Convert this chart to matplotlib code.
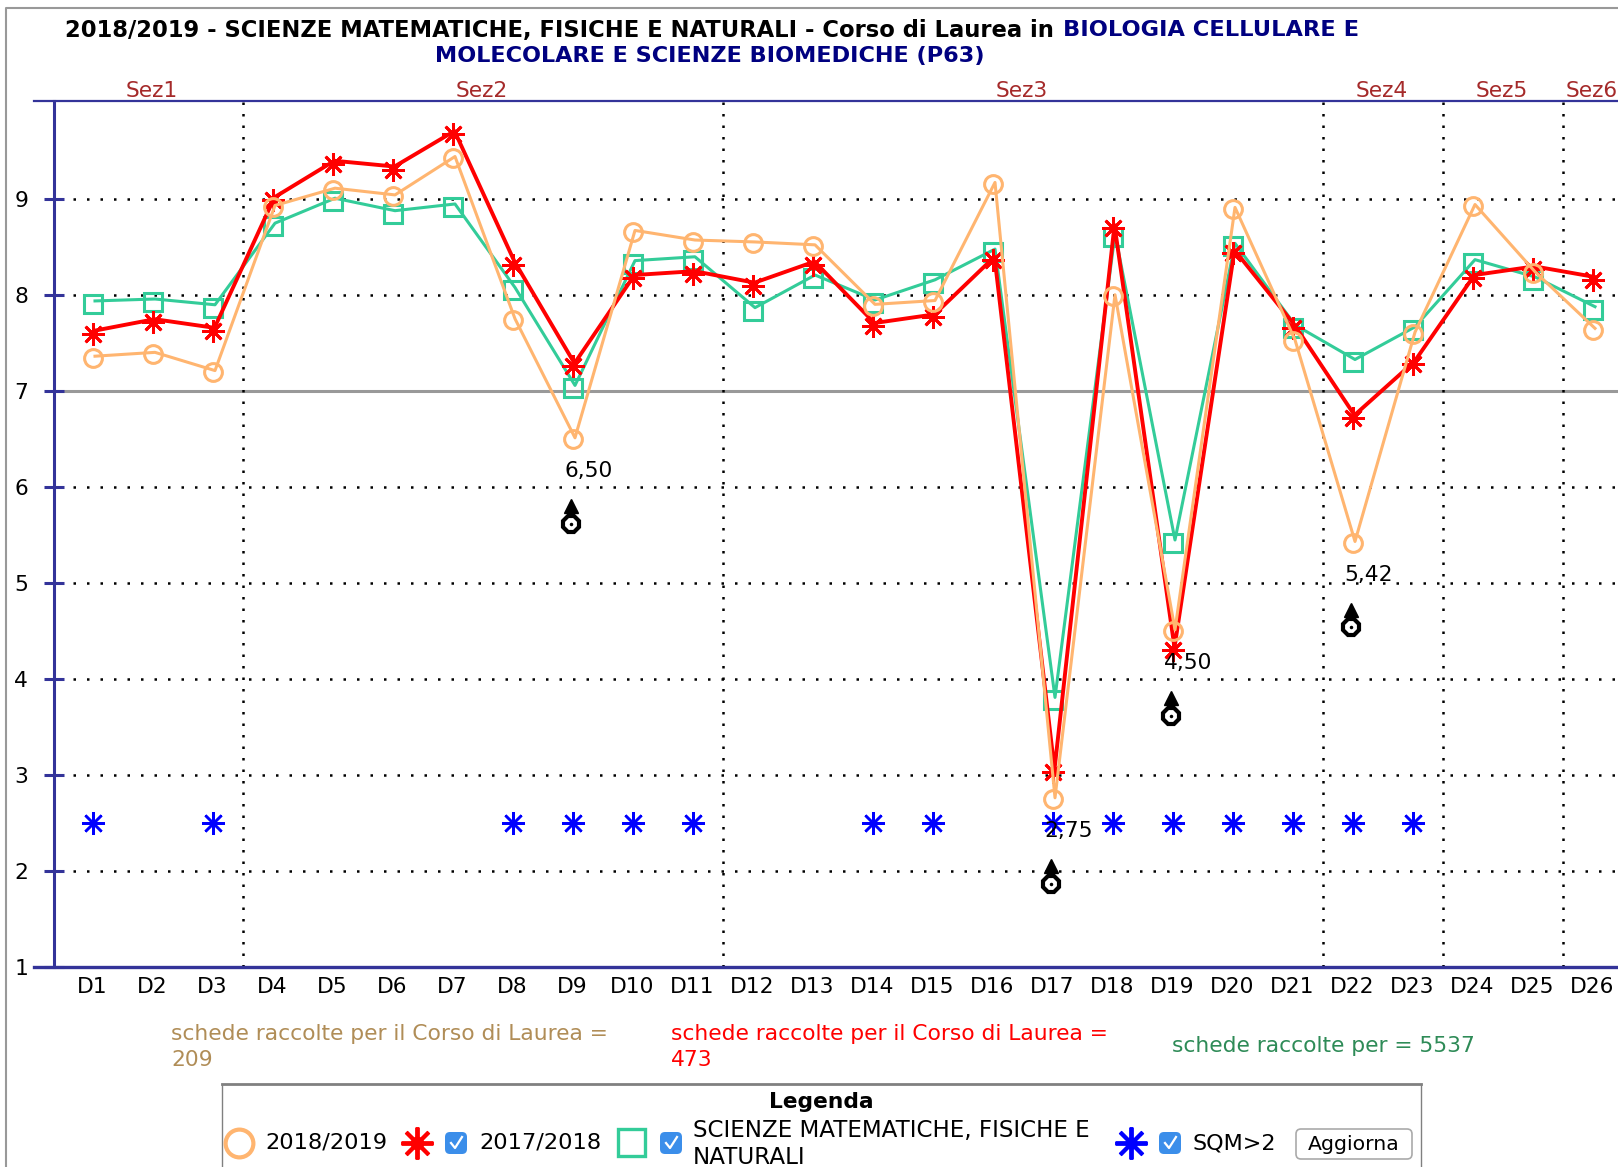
import matplotlib
matplotlib.use('Agg')
import matplotlib.pyplot as plt
from matplotlib.patches import FancyBboxPatch, Rectangle
from matplotlib.transforms import ScaledTranslation

# valori
labels = ['D%d' % i for i in range(1, 27)]
orange = [7.35, 7.39, 7.20, 8.92, 9.10, 9.03, 9.43, 7.74, 6.50, 8.66, 8.56, 8.54, 8.51,
          7.89, 7.93, 9.16, 2.75, 7.99, 4.50, 8.90, 7.52, 5.42, 7.60, 8.93, 8.23, 7.64]
red = [7.60, 7.72, 7.63, 8.99, 9.37, 9.31, 9.68, 8.32, 7.26, 8.18, 8.22, 8.10, 8.32,
       7.68, 7.77, 8.37, 3.03, 8.70, 4.30, 8.44, 7.66, 6.72, 7.28, 8.18, 8.27, 8.16]
green = [7.91, 7.93, 7.87, 8.72, 8.98, 8.85, 8.92, 8.05, 7.03, 8.33, 8.37, 7.84, 8.18,
         7.92, 8.13, 8.45, 3.78, 8.61, 5.42, 8.51, 7.66, 7.30, 7.64, 8.34, 8.16, 7.85]
sqm_labels = ['D1', 'D3', 'D8', 'D9', 'D10', 'D11', 'D14', 'D15', 'D17', 'D18', 'D19',
              'D20', 'D21', 'D22', 'D23']
sqm_value = 2.5
sections = ['Sez1', 'Sez2', 'Sez3', 'Sez4', 'Sez5', 'Sez6']
section_centers = [1, 6.5, 15.5, 21.5, 23.5, 25]
section_breaks = [2.5, 10.5, 20.5, 22.5, 24.5]

ORANGE = '#FFB570'
RED = '#FF0000'
GREEN = '#33CC99'
BLUE = '#0000FF'
NAVY = '#333399'
FS = 15.7

W, H = 1618, 1167
fig = plt.figure(figsize=(W / 100, H / 100), dpi=100)
plt.rcParams['font.family'] = 'DejaVu Sans'

# asse principale, posizionato in pixel
left, right, top, bottom = 53.5, 1618, 100.7, 967.3
ax = fig.add_axes([left / W, 1 - bottom / H, (right - left) / W, (bottom - top) / H])
ax.set_xlim((left - 92.5) / 60, (right - 92.5) / 60)
ax.set_ylim(1, 10.027)
x = list(range(len(labels)))

for s in ['top', 'right', 'bottom']:
    ax.spines[s].set_visible(False)
ax.spines['left'].set_color(NAVY)
ax.spines['left'].set_linewidth(2.2)

ax.set_xticks(x)
ax.set_xticklabels(labels, fontsize=FS)
ax.tick_params(axis='x', length=0, pad=7)
ax.set_yticks(range(1, 10))
ax.tick_params(axis='y', length=14.4, width=2.2, color=NAVY, direction='inout', pad=11,
               labelsize=FS)

# griglia
for v in [2, 3, 4, 5, 6, 8, 9]:
    ax.plot([-0.32, 30], [v, v], color='black', lw=1.8, ls=(0, (1, 4.4)), zorder=1)
ax.axhline(7, color='#999999', lw=2.2, zorder=1)
for b in section_breaks:
    ax.axvline(b, color='black', lw=1.8, ls=(0, (1, 3.6)), zorder=1)

for y, lw in [(10.027, 1.6), (1, 2.4)]:
    ax.plot([-0.97, 30], [y, y], color=NAVY, lw=lw, clip_on=False, zorder=2)

for name, c in zip(sections, section_centers):
    ax.text(c - 0.02, 10.02, name, color='#A52A2A', fontsize=FS, ha='center', va='bottom',
            clip_on=False)

def shifted(dx, dy):
    # le linee nell'originale sono un po' spostate rispetto ai marker
    return ax.transData + ScaledTranslation(dx / 100, dy / 100, fig.dpi_scale_trans)

def star(xs, ys, color, ms, mew, core, z):
    ax.plot(xs, ys, ls='none', color=color, marker=(8, 2, 0), ms=ms, mew=mew, zorder=z)
    ax.plot(xs, ys, ls='none', color=color, marker='o', ms=core, mew=0, zorder=z)

ax.plot(x, green, color=GREEN, lw=2.2, transform=shifted(2.5, 3), zorder=3)
ax.plot(x, green, ls='none', color=GREEN, marker='s', ms=12.5, mfc='none', mew=2.2, zorder=3)
ax.plot(x, red, color=RED, lw=2.8, transform=shifted(2, 3), zorder=4)
star(x, red, RED, 16, 2, 6.5, 4)
ax.plot(x, orange, color=ORANGE, lw=2.2, transform=shifted(2.5, 1.5), zorder=5)
ax.plot(x, orange, ls='none', color=ORANGE, marker='o', ms=12.8, mfc='none', mew=2.2, zorder=5)
star([labels.index(l) for l in sqm_labels], [sqm_value] * len(sqm_labels), BLUE, 16.5, 1.8, 4.5, 6)

# valori sotto il 7 con il simbolo nero
for i, v in enumerate(orange):
    if v < 7:
        ax.annotate(('%.2f' % v).replace('.', ','), (i, v), xytext=(-6, -23),
                    textcoords='offset points', fontsize=FS, va='center', zorder=7)
        ax.plot([i - 0.03] * 2, [v - 0.88, v - 0.66], color='black', lw=1.6, zorder=7)
        ax.plot(i - 0.03, v - 0.70, marker='^', color='black', ms=9.5, zorder=7)
        ax.plot(i - 0.03, v - 0.88, marker='8', mfc='white', mec='black', mew=3, ms=12, zorder=7)
        ax.plot(i - 0.03, v - 0.88, marker='o', color='black', ms=1.5, zorder=8)

# livello di disegno in pixel per titolo, note e legenda
ov = fig.add_axes([0, 0, 1, 1], zorder=10)
ov.set_xlim(0, W)
ov.set_ylim(H, 0)
ov.axis('off')
ov.plot([6, 6, W], [H, 7.5, 7.5], color='#999999', lw=1.5)

def label(px, py, txt, **kw):
    kw.setdefault('fontsize', FS)
    kw.setdefault('va', 'center')
    ov.text(px, py, txt, **kw)

label(65, 30, '2018/2019 - SCIENZE MATEMATICHE, FISICHE E NATURALI - Corso di Laurea in',
      fontsize=16.3, fontweight='bold', color='black')
label(1063, 30, 'BIOLOGIA CELLULARE E', fontsize=16.2, fontweight='bold', color='#000080')
label(435, 56, 'MOLECOLARE E SCIENZE BIOMEDICHE (P63)', fontsize=16.1, fontweight='bold',
      color='#000080')

label(171, 1034, 'schede raccolte per il Corso di Laurea =', color='#B08D57')
label(171, 1060, '209', color='#B08D57')
label(671, 1034, 'schede raccolte per il Corso di Laurea =', color=RED)
label(671, 1060, '473', color=RED)
label(1172, 1046, 'schede raccolte per = 5537', color='#2E8B57')

# legenda
ov.plot([222, 222], [H, 1084], color='#808080', lw=1)
ov.plot([1421, 1421], [H, 1084], color='#808080', lw=1)
ov.plot([222, 1421], [1084, 1084], color='#808080', lw=2)
label(821, 1102, 'Legenda', ha='center', fontweight='bold')

def checkbox(px, py):
    ov.add_patch(FancyBboxPatch((px - 8, py - 8), 16, 16, boxstyle='round,pad=3,rounding_size=5',
                                fc='#3B8EEA', ec='none'))
    ov.plot([px - 5, px - 1, px + 6], [py, py + 5, py - 6], color='white', lw=1.6)

row = 1143
ov.plot(239, row, marker='o', mfc='none', mec=ORANGE, mew=3, ms=20)
label(265, row, '2018/2019', fontsize=16.2)
ov.plot(417, row, marker=(8, 2, 0), color=RED, mew=2.8, ms=23)
ov.plot(417, row, marker='o', color=RED, mew=0, ms=10)
checkbox(456, row)
label(479, row, '2017/2018', fontsize=16.2)
ov.add_patch(Rectangle((618, 1129), 27, 27, fc='none', ec=GREEN, lw=2.4))
checkbox(671, row)
label(693, 1131, 'SCIENZE MATEMATICHE, FISICHE E', fontsize=16.6)
label(693, 1157, 'NATURALI', fontsize=16.6)
ov.plot(1131, row, marker=(8, 2, 0), color=BLUE, mew=2.8, ms=23)
ov.plot(1131, row, marker='o', color=BLUE, mew=0, ms=9)
checkbox(1170, row)
label(1193, row, 'SQM>2', fontsize=16)
ov.add_patch(FancyBboxPatch((1298, 1131), 112, 26, boxstyle='round,pad=2,rounding_size=5',
                            fc='white', ec='#AAAAAA', lw=1.2))
label(1354, 1144, 'Aggiorna', ha='center', fontsize=14.7)

fig.savefig('out.png', dpi=100)
